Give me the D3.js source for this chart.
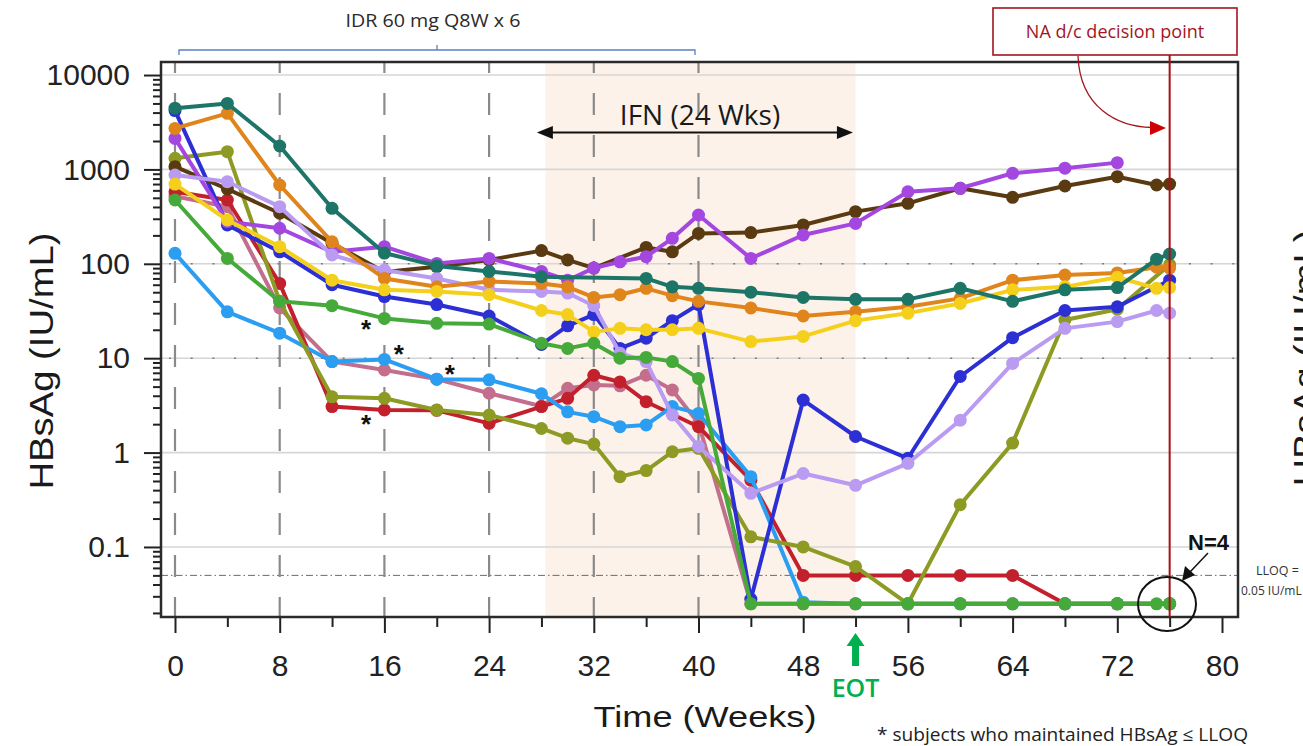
<!DOCTYPE html>
<html><head><meta charset="utf-8">
<script src="https://cdn.jsdelivr.net/npm/d3@7"></script>
<style>body{margin:0;background:#fff;overflow:hidden} svg{display:block}</style>
</head><body>
<svg id="c" width="1303" height="746"></svg>
<script>
// ---------------- data ----------------
const xTickLabels = [0, 8, 16, 24, 32, 40, 48, 56, 64, 72, 80];
const xMinorTicks = [4, 12, 20, 28, 36, 44, 52, 60, 68, 76];
const yTickLabels = [0.1, 1, 10, 100, 1000, 10000];
const dosingWeeks = [0, 8, 16, 24, 32, 40];
const ifnWeeks = [28.3, 52];
const lloq = 0.05;
const eotWeek = 52;
const decisionWeek = 76;

const teal = [[0,4450],[4,5000],[8,1770],[12,387],[16,130],[20,95],[24,83],[28,73],[36,70],[38,57],[40,55],[44,50],[48,44],[52,42],[56,42],[60,55],[64,40],[68,53],[72,56],[75,112],[76,127]];
const orange = [[0,2720],[4,3930],[8,684],[12,171],[16,70],[20,57],[24,65],[28,62],[30,57],[32,44],[34,47],[36,55],[38,46],[40,40],[44,34],[48,28],[52,31],[56,35],[60,43],[64,67],[68,76],[72,80],[75,92],[76,90]];
const brown = [[0,1070],[4,620],[8,343],[12,165],[16,82],[20,93],[24,110],[28,138],[30,110],[32,90],[36,149],[38,134],[40,210],[44,214],[48,258],[52,357],[56,437],[60,631],[64,506],[68,667],[72,837],[75,684],[76,700]];
const purple = [[0,2130],[4,280],[8,238],[12,134],[16,152],[20,101],[24,114],[28,83],[30,67],[32,90],[34,105],[36,119],[38,186],[40,329],[44,114],[48,202],[52,268],[56,580],[60,631],[64,910],[68,1030],[72,1180]];
const blue = [[0,4200],[4,258],[8,134],[12,60],[16,45],[20,37],[24,28],[28,14],[30,22],[32,29],[34,12.7],[36,16.3],[38,25],[40,37],[44,0.028],[48,3.6],[52,1.48],[56,0.87],[60,6.4],[64,16.5],[68,32],[72,35],[76,67]];
const lavender = [[0,873],[4,741],[8,403],[12,124],[16,86],[20,70],[24,53],[28,51],[30,49],[32,36],[34,11.3],[36,9.2],[38,2.5],[40,1.16],[44,0.37],[48,0.6],[52,0.45],[56,0.77],[60,2.2],[64,8.8],[68,20.7],[72,24.4],[75,32],[76,30]];
const yellow = [[0,700],[4,291],[8,152],[12,67],[16,53],[20,51],[24,47],[28,32],[30,29],[32,19],[34,20.7],[36,20],[38,20],[40,20.7],[44,15],[48,17],[52,25],[56,30],[60,38],[64,53],[68,57],[72,72],[75,55],[76,56]];
const green = [[0,474],[4,114],[8,40],[12,36],[16,26.4],[20,23.4],[24,23],[28,14.4],[30,12.7],[32,14.4],[34,10],[36,10.2],[38,9.2],[40,6.1],[44,0.025],[48,0.025],[52,0.025],[56,0.025],[60,0.025],[64,0.025],[68,0.025],[72,0.025],[75,0.025],[76,0.025]];
const lightBlue = [[0,129],[4,31],[8,18.4],[12,9.2],[16,9.7],[20,6.0],[24,5.9],[28,4.2],[30,2.7],[32,2.4],[34,1.88],[36,1.96],[38,3.07],[40,2.6],[44,0.556],[48,0.026],[52,0.025],[56,0.025],[60,0.025],[64,0.025],[68,0.025],[72,0.025],[76,0.025]];
const red = [[0,580],[4,474],[8,62],[12,3.07],[16,2.83],[20,2.8],[24,2.04],[28,3.07],[30,3.76],[32,6.6],[34,5.6],[36,3.46],[40,1.88],[44,0.51],[48,0.05],[52,0.05],[56,0.05],[60,0.05],[64,0.05],[68,0.025],[72,0.025],[76,0.025]];
const mauve = [[0,520],[4,403],[8,34],[12,9.2],[16,7.5],[20,6.0],[24,4.25],[28,3.1],[30,4.8],[32,5.2],[34,5.1],[36,6.6],[38,4.6],[40,2.04],[44,0.025],[48,0.025],[52,0.025],[56,0.025],[60,0.025],[64,0.025],[68,0.025],[72,0.025],[76,0.025]];
const olive = [[0,1310],[4,1540],[8,40],[12,3.9],[16,3.76],[20,2.83],[24,2.5],[28,1.8],[30,1.42],[32,1.23],[34,0.556],[36,0.645],[38,1.02],[40,1.11],[44,0.128],[48,0.1],[52,0.062],[56,0.025],[60,0.28],[64,1.26],[68,25.4],[72,33],[76,98]];

const seriesData   = [mauve, red, lightBlue, olive, blue, brown, purple, lavender, orange, yellow, teal, green];
const seriesColors = ["#c26e8c", "#c3202e", "#2b9ef2", "#8d9b24", "#2c2fd4", "#5a3a10", "#a447e0", "#b99bf1", "#e0841c", "#f4d01c", "#1c7566", "#45aa3a"];

// asterisk annotation positions [week, value]
const asterisks = [[14.6, 23.5], [17.1, 12.8], [21.0, 7.9], [14.6, 2.33]];

// ---------------- layout ----------------
const svg = d3.select("#c");
const L = 161, R = 1238, T = 62, B = 617;
const x = d3.scaleLinear().domain([0, 80]).range([175, 1222]);
const y = d3.scaleLog().domain([Math.pow(10, -1.742), Math.pow(10, 4.138)]).range([B, T]);
const font = "'Liberation Sans', Arial, sans-serif";
const font2 = "'Open Sans', 'Noto Sans', sans-serif";

// IFN shading
svg.append("rect").attr("x", x(ifnWeeks[0])).attr("y", T)
  .attr("width", x(ifnWeeks[1]) - x(ifnWeeks[0])).attr("height", B - T)
  .attr("fill", "#fdf2ea");

// horizontal grid
const gridSolid = [10000, 1000, 1, 0.1];
const gridDotted = [100, 10];
svg.append("g").selectAll("line").data(gridSolid.concat(gridDotted)).join("line")
  .attr("x1", L).attr("x2", R).attr("y1", d => y(d)).attr("y2", d => y(d))
  .attr("stroke", "#d6d6d6").attr("stroke-width", 1.6);
svg.append("g").selectAll("line").data(gridDotted).join("line")
  .attr("x1", L + 8).attr("x2", R).attr("y1", d => y(d)).attr("y2", d => y(d))
  .attr("stroke", "#7a7a7a").attr("stroke-width", 1.6).attr("stroke-dasharray", "2,19.7");

// LLOQ line
svg.append("line").attr("x1", L).attr("x2", R).attr("y1", y(lloq)).attr("y2", y(lloq))
  .attr("stroke", "#6a6a6a").attr("stroke-width", 1).attr("stroke-dasharray", "7,3,1.5,3");

// dosing dashed verticals
svg.append("g").selectAll("line").data(dosingWeeks).join("line")
  .attr("x1", d => x(d)).attr("x2", d => x(d)).attr("y1", T).attr("y2", B)
  .attr("stroke", "#8a8a8a").attr("stroke-width", 2.2)
  .attr("stroke-dasharray", "22,20").attr("stroke-dashoffset", 11);

// series
const line = d3.line().x(d => x(d[0])).y(d => y(d[1]));
seriesData.forEach((s, i) => {
  const g = svg.append("g");
  g.append("path").attr("d", line(s)).attr("fill", "none")
    .attr("stroke", seriesColors[i]).attr("stroke-width", 4).attr("stroke-linejoin", "round");
  g.selectAll("circle").data(s).join("circle")
    .attr("cx", d => x(d[0])).attr("cy", d => y(d[1])).attr("r", 6.5)
    .attr("fill", seriesColors[i]);
});

// asterisks
svg.append("g").selectAll("text").data(asterisks).join("text")
  .attr("x", d => x(d[0])).attr("y", d => y(d[1]) + 15)
  .attr("text-anchor", "middle").attr("font-family", font).attr("font-weight", "bold")
  .attr("font-size", 26).attr("fill", "#111").text("*");

// axes
const yAxis = d3.axisLeft(y).tickValues(yTickLabels).tickSize(17).tickPadding(14).tickFormat(d => String(d));
const gy = svg.append("g").attr("transform", `translate(${L},0)`).call(yAxis);
const yMinor = [];
for (let e = -2; e <= 4; e++) for (let k = 2; k <= 9; k++) { const v = k * Math.pow(10, e); if (v >= y.domain()[0] && v <= y.domain()[1]) yMinor.push(v); }
const gym = svg.append("g").attr("transform", `translate(${L},0)`).call(d3.axisLeft(y).tickValues(yMinor).tickSize(8).tickFormat(""));
const xAxis = d3.axisBottom(x).tickValues(xTickLabels).tickSize(16).tickPadding(22).tickFormat(d => String(d));
const gx = svg.append("g").attr("transform", `translate(0,${B})`).call(xAxis);
const gxm = svg.append("g").attr("transform", `translate(0,${B})`).call(d3.axisBottom(x).tickValues(xMinorTicks).tickSize(10).tickFormat(""));
[gy, gym, gx, gxm].forEach(g => {
  g.select(".domain").remove();
  g.selectAll(".tick line").attr("stroke", "#222").attr("stroke-width", 2);
  g.selectAll(".tick text").attr("font-family", font).attr("font-size", 30).attr("fill", "#222");
});

// frame
svg.append("rect").attr("x", L).attr("y", T).attr("width", R - L).attr("height", B - T)
  .attr("fill", "none").attr("stroke", "#2a2a2a").attr("stroke-width", 2.5);

// axis titles
svg.append("text").attr("x", 705).attr("y", 727).attr("text-anchor", "middle")
  .attr("font-family", font).attr("font-size", 30).attr("fill", "#1a1a1a")
  .attr("textLength", 223).attr("lengthAdjust", "spacingAndGlyphs").text("Time (Weeks)");
svg.append("text").attr("transform", "translate(53,361) rotate(-90)").attr("text-anchor", "middle")
  .attr("font-family", font).attr("font-size", 33).attr("fill", "#1a1a1a")
  .attr("textLength", 257).attr("lengthAdjust", "spacingAndGlyphs").text("HBsAg (IU/mL)");
// neighbouring chart's label, cut by the picture's right edge as in the reference
svg.append("text").attr("transform", "translate(1317,358) rotate(-90)").attr("text-anchor", "middle")
  .attr("font-family", font).attr("font-size", 33).attr("fill", "#1a1a1a")
  .attr("textLength", 257).attr("lengthAdjust", "spacingAndGlyphs").text("HBsAg (IU/mL)");

// IDR bracket
const bx1 = 179, bx2 = 695, by = 50, bmid = (bx1 + bx2) / 2;
svg.append("path").attr("d", `M${bx1},${by + 5}V${by}H${bx2}V${by + 5}M${bmid},${by}V${by - 5}`)
  .attr("fill", "none").attr("stroke", "#5b80c2").attr("stroke-width", 1.3);
svg.append("text").attr("x", bmid - 4).attr("y", 27).attr("text-anchor", "middle")
  .attr("font-family", font2).attr("font-size", 17.5).attr("fill", "#2a2a2a")
  .attr("textLength", 175).attr("lengthAdjust", "spacingAndGlyphs").text("IDR 60 mg Q8W x 6");

// IFN arrow
const ax1 = x(27.65), ax2 = x(51.8), ay = 132.5;
svg.append("line").attr("x1", ax1 + 10).attr("x2", ax2 - 10).attr("y1", ay).attr("y2", ay)
  .attr("stroke", "#111").attr("stroke-width", 2);
svg.append("path").attr("d", `M${ax1},${ay}L${ax1 + 16},${ay - 6.5}L${ax1 + 16},${ay + 6.5}Z M${ax2},${ay}L${ax2 - 16},${ay - 6.5}L${ax2 - 16},${ay + 6.5}Z`)
  .attr("fill", "#111");
svg.append("text").attr("x", 700).attr("y", 125).attr("text-anchor", "middle")
  .attr("font-family", font2).attr("font-size", 28).attr("fill", "#1a1a1a").text("IFN (24 Wks)");

// NA d/c decision point
const dx = x(decisionWeek);
svg.append("rect").attr("x", 993).attr("y", 8).attr("width", 244).attr("height", 47)
  .attr("fill", "#fff").attr("stroke", "#a3151f").attr("stroke-width", 1.6);
svg.append("text").attr("x", 1115).attr("y", 38).attr("text-anchor", "middle")
  .attr("font-family", font2).attr("font-size", 18).attr("fill", "#a3151f").text("NA d/c decision point");
svg.append("line").attr("x1", dx).attr("x2", dx).attr("y1", 55).attr("y2", B)
  .attr("stroke", "#a80f14").attr("stroke-width", 2);
svg.append("path").attr("d", "M1078,56 C1080,108 1118,127 1152,127.5")
  .attr("fill", "none").attr("stroke", "#a3151f").attr("stroke-width", 1.3);
svg.append("path").attr("d", "M1166,128 L1150,121 L1150,135 Z").attr("fill", "#d00000");

// N=4 annotation
svg.append("ellipse").attr("cx", 1167).attr("cy", 604).attr("rx", 29).attr("ry", 27)
  .attr("fill", "none").attr("stroke", "#111").attr("stroke-width", 2);
svg.append("text").attr("x", 1188).attr("y", 550).attr("font-family", font)
  .attr("font-weight", "bold").attr("font-size", 22).attr("fill", "#111").text("N=4");
svg.append("line").attr("x1", 1208).attr("y1", 553).attr("x2", 1190).attr("y2", 572)
  .attr("stroke", "#111").attr("stroke-width", 1.5);
svg.append("path").attr("d", "M1182,581 L1185,566 L1195,575 Z").attr("fill", "#111");

// LLOQ label
svg.append("text").attr("x", 1256).attr("y", 575).attr("font-family", font2)
  .attr("font-size", 12.5).attr("fill", "#333").text("LLOQ =");
svg.append("text").attr("x", 1241).attr("y", 595).attr("font-family", font2)
  .attr("font-size", 12).attr("fill", "#333").text("0.05 IU/mL");

// EOT
const ex = x(eotWeek);
svg.append("path").attr("d", `M${ex},633 L${ex + 9},646 L${ex + 3.5},646 L${ex + 3.5},666 L${ex - 3.5},666 L${ex - 3.5},646 L${ex - 9},646 Z`)
  .attr("fill", "#00b050");
svg.append("text").attr("x", ex).attr("y", 697).attr("text-anchor", "middle")
  .attr("font-family", font2).attr("font-weight", 600).attr("font-size", 25).attr("fill", "#00b050").text("EOT");

// footnote
svg.append("text").attr("x", 877).attr("y", 741).attr("font-family", font2)
  .attr("font-size", 18).attr("fill", "#222")
  .attr("textLength", 371).attr("lengthAdjust", "spacingAndGlyphs").text("* subjects who maintained HBsAg \u2264 LLOQ");
</script>
</body></html>
